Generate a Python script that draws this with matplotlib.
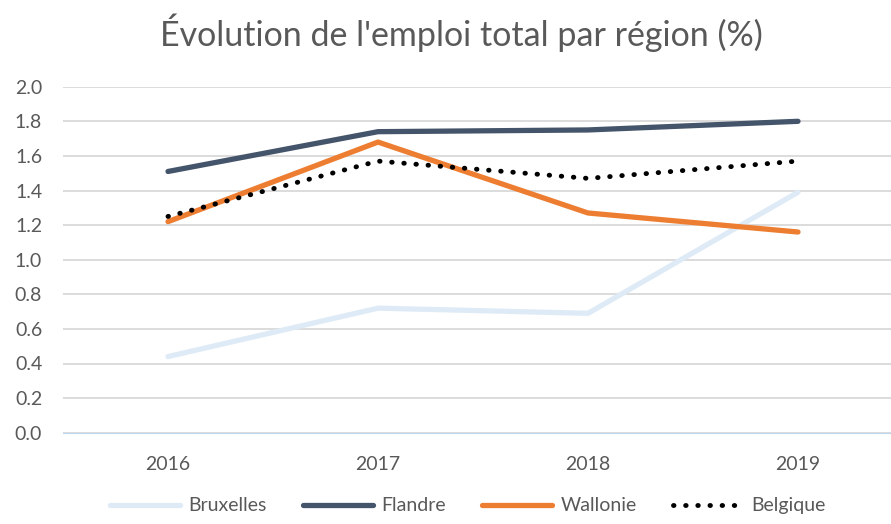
import matplotlib.pyplot as plt

plt.rcParams['font.family'] = ['Lato', 'DejaVu Sans']

YEARS = ['2016', '2017', '2018', '2019']
BRUXELLES = [0.44, 0.72, 0.69, 1.39]
FLANDRE = [1.51, 1.74, 1.75, 1.80]
WALLONIE = [1.22, 1.68, 1.27, 1.16]
BELGIQUE = [1.25, 1.57, 1.47, 1.57]

TEXT_COLOR = '#595959'

fig = plt.figure(figsize=(8.91, 5.24), dpi=100)
ax = fig.add_axes([63 / 891, 91.3 / 524, 828 / 891, 346 / 524])

x = range(len(YEARS))
ax.plot(x, BRUXELLES, color='#DEEBF7', linewidth=3.8, solid_capstyle='round', label='Bruxelles')
ax.plot(x, FLANDRE, color='#44546A', linewidth=3.8, solid_capstyle='round', label='Flandre')
ax.plot(x, WALLONIE, color='#ED7D31', linewidth=3.8, solid_capstyle='round', label='Wallonie')
ax.plot(x, BELGIQUE, color='black', linewidth=3.5, linestyle=(0, (0.1, 2.4)),
        dash_capstyle='round', label='Belgique')

ax.set_xlim(-0.5, -0.5 + 828 / 210)
ax.set_ylim(0, 2.0)
ax.set_yticks([i / 5 for i in range(11)])
ax.set_yticklabels([f'{i / 5:.1f}' for i in range(11)])
ax.set_xticks(list(x))
ax.set_xticklabels(YEARS)
ax.grid(axis='y', color='#D9D9D9', linewidth=1.3)
ax.set_axisbelow(True)
for s in ['top', 'right', 'left']:
    ax.spines[s].set_visible(False)
ax.spines['bottom'].set_color('#BDD7EE')
ax.tick_params(length=0, labelsize=14, colors=TEXT_COLOR)
ax.tick_params(axis='y', pad=15)
ax.tick_params(axis='x', pad=17)

fig.suptitle("Évolution de l'emploi total par région (%)", x=0.518, y=0.975,
             fontsize=24.5, color=TEXT_COLOR)

fig.legend(loc='lower center', bbox_to_anchor=(0.525, -0.015), ncol=4, frameon=False,
           fontsize=14, handlelength=3.6, columnspacing=1.9, handletextpad=0.4,
           labelcolor=TEXT_COLOR)

fig.savefig('out.png', dpi=100)
